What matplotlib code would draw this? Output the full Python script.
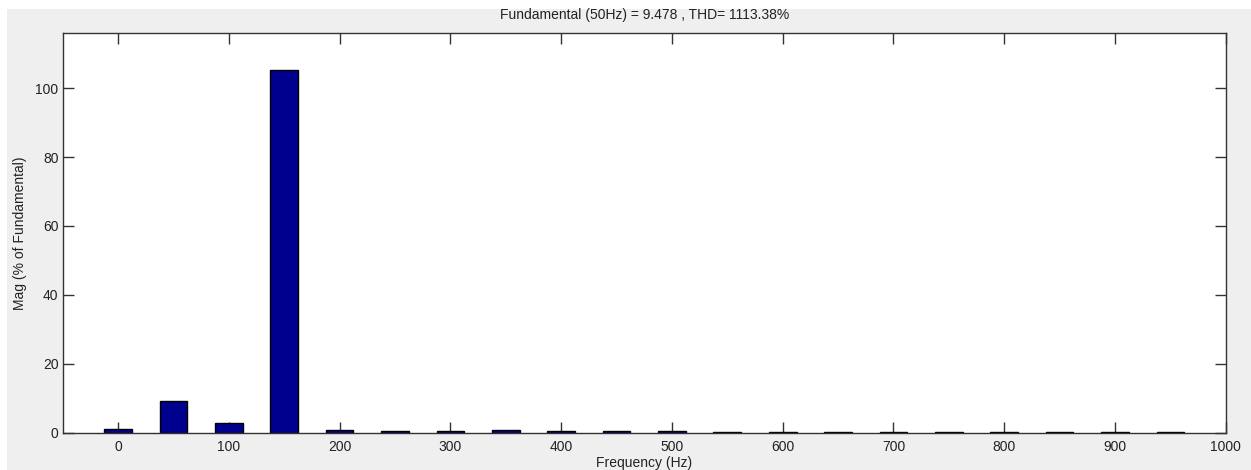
import matplotlib
matplotlib.use("Agg")
import matplotlib.pyplot as plt
from matplotlib.patches import Rectangle

plt.rcParams['font.family'] = ['Liberation Sans', 'DejaVu Sans']

# harmonic spectrum, % of fundamental
freqs = [0, 50, 100, 150, 200, 250, 300, 350, 400, 450,
         500, 550, 600, 650, 700, 750, 800, 850, 900, 950]
mags = [1.0, 9.3, 2.7, 105.3, 0.9, 0.5, 0.5, 0.8, 0.5, 0.5,
        0.5, 0.1, 0.1, 0.1, 0.1, 0.1, 0.1, 0.1, 0.1, 0.1]
xticks = list(range(0, 1001, 100))
yticks = [0, 20, 40, 60, 80, 100]
title = "Fundamental (50Hz) = 9.478 , THD= 1113.38%"

fig = plt.figure(figsize=(12.51, 4.70), dpi=100, facecolor='white')
# gray figure panel (screenshot has a white margin top/left)
fig.patches.append(Rectangle((7 / 1251, 0), 1 - 7 / 1251, 1 - 9 / 470,
                             transform=fig.transFigure, facecolor='#efefef',
                             edgecolor='none', zorder=-10))

ax = fig.add_axes([0.0501, 0.0794, 0.9297, 0.8504])
ax.set_facecolor('white')
ax.bar(freqs, mags, width=25, color='#00008f', edgecolor='black', linewidth=1.0, zorder=2)

ax.set_xlim(-50, 1000)
ax.set_ylim(0, 116)
ax.set_xticks(xticks)
ax.set_yticks(yticks)
ax.tick_params(direction='in', length=8, width=1, colors='#333333', labelcolor='#222222',
               labelsize=10, top=True, right=True)
ax.tick_params(axis='x', pad=5)
ax.tick_params(axis='y', pad=3)
for s in ax.spines.values():
    s.set_color('#333333')
    s.set_linewidth(1)

ax.set_title(title, fontsize=10, color='#222222', pad=10)
ax.set_xlabel("Frequency (Hz)", fontsize=10, color='#222222', labelpad=2)
ax.set_ylabel("Mag (% of Fundamental)", fontsize=10, color='#222222', labelpad=6)

fig.savefig("out.png", dpi=100, facecolor=fig.get_facecolor())
